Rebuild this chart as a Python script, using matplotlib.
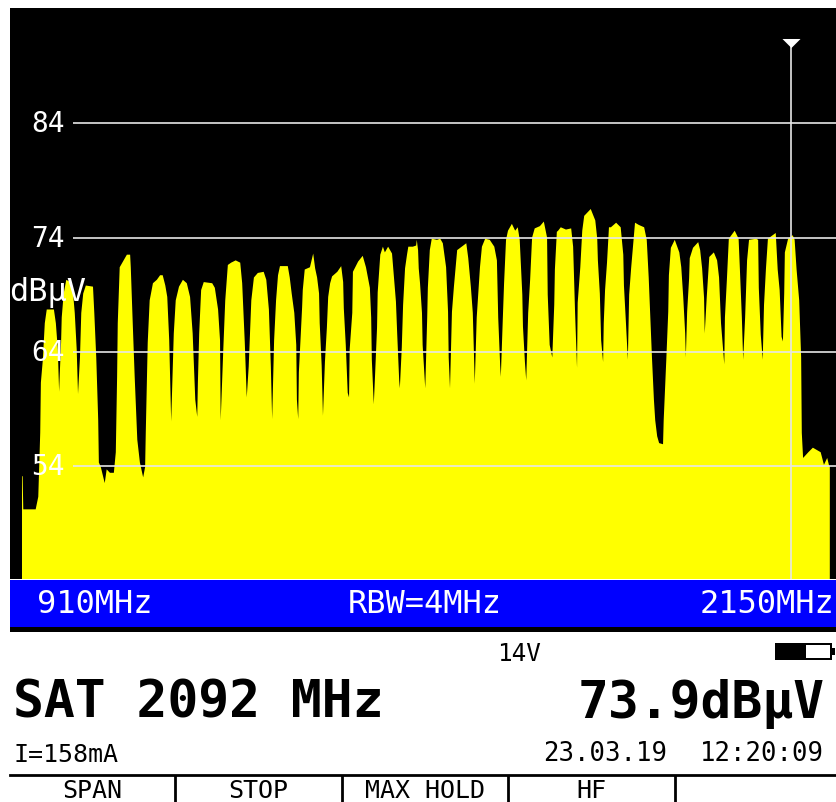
import matplotlib
matplotlib.use('Agg')
import matplotlib.pyplot as plt
from matplotlib.patches import Rectangle

# spectrum trace, one line per transponder hump
freq_mhz = [
    910, 911, 912, 931, 935,
    938, 939, 942, 945, 948, 953, 959, 962, 965, 967,
    968, 970, 971, 974, 978, 984, 988, 991, 994, 996,
    999, 1001, 1004, 1008, 1019, 1021, 1024, 1027, 1028, 1031, 1037, 1040, 1045, 1051, 1054,
    1056, 1057, 1060, 1065, 1071, 1076, 1077, 1080, 1083, 1087, 1091, 1096,
    1099, 1100, 1103, 1106, 1111, 1117, 1122, 1126, 1130, 1133, 1136, 1139,
    1140, 1143, 1146, 1151, 1157, 1163, 1168, 1172, 1176, 1179,
    1180, 1182, 1185, 1189, 1202, 1206, 1211, 1214, 1215,
    1219, 1222, 1226, 1231, 1238, 1245, 1248, 1252, 1255,
    1258, 1262, 1266, 1272, 1281, 1285, 1289, 1292, 1294,
    1297, 1300, 1303, 1306, 1318, 1321, 1324, 1328, 1331, 1332, 1334,
    1335, 1338, 1340, 1341, 1344, 1352, 1357, 1360, 1363, 1366, 1367, 1370, 1372,
    1375, 1378, 1380, 1383, 1386, 1394, 1400, 1403, 1404, 1407, 1410, 1412,
    1413, 1417, 1418, 1426, 1433, 1438, 1441, 1444, 1446, 1447, 1450,
    1452, 1455, 1456, 1460, 1464, 1467, 1472, 1478, 1481, 1484, 1486, 1489, 1490,
    1493, 1495, 1498, 1501, 1503, 1510, 1515, 1516, 1518, 1519, 1521, 1524, 1525, 1529,
    1532, 1533, 1536, 1539, 1547, 1552, 1556, 1561, 1564, 1565, 1567,
    1570, 1573, 1578, 1585, 1592, 1595, 1599, 1602, 1604, 1605,
    1608, 1613, 1616, 1621, 1628, 1635, 1639, 1641, 1644, 1645,
    1648, 1650, 1653, 1656, 1662, 1667, 1671, 1674, 1678, 1679, 1682, 1684,
    1687, 1690, 1693, 1697, 1705, 1711, 1716, 1717, 1720, 1724,
    1727, 1728, 1731, 1733, 1737, 1745, 1753, 1756, 1757, 1759, 1762,
    1763, 1767, 1770, 1773, 1783, 1790, 1793, 1794, 1797, 1799, 1802,
    1803, 1805, 1808, 1811, 1814, 1822, 1829, 1833, 1834, 1837, 1840,
    1842, 1845, 1848, 1851, 1857, 1865, 1869, 1872, 1877, 1880, 1882, 1885, 1888, 1894,
    1895, 1899, 1902, 1903, 1906, 1912, 1919, 1922, 1925, 1928, 1929,
    1931, 1934, 1935, 1940, 1948, 1951, 1954, 1957, 1958,
    1961, 1963, 1965, 1972, 1977, 1980, 1983, 1988,
    1989, 1992, 1995, 2004, 2010, 2012, 2015, 2017,
    2020, 2023, 2026, 2037, 2040, 2041, 2044, 2047,
    2049, 2052, 2055, 2067, 2070, 2073, 2076, 2078,
    2080, 2081, 2086, 2093, 2096, 2099, 2103, 2106, 2107, 2109, 2117, 2124, 2136, 2141, 2146, 2149, 2150,
]
level_dbuv = [
    53.1, 53.1, 50.2, 50.2, 51.3,
    56.9, 61.3, 63.3, 66.5, 67.7, 67.7, 67.7, 66.5, 64.2, 60.5,
    62.1, 64.8, 67.0, 69.1, 70.3, 70.1, 69.4, 67.4, 64.2, 60.3,
    63.5, 67.4, 69.1, 69.8, 69.7, 67.4, 63.5, 58.0, 54.3, 53.9, 52.5, 53.7, 53.4, 53.4, 55.2,
    61.8, 66.5, 71.4, 71.9, 72.5, 72.5, 71.4, 66.5, 61.8, 56.3, 54.3, 53.0,
    53.9, 56.9, 64.8, 68.5, 70.0, 70.3, 70.7, 70.7, 69.8, 68.8, 65.0, 57.9,
    59.8, 65.6, 68.5, 69.7, 70.3, 70.0, 68.8, 65.6, 59.8, 58.3,
    61.3, 65.6, 69.4, 70.1, 70.0, 69.6, 67.7, 65.0, 58.0,
    64.2, 68.5, 71.6, 71.8, 72.0, 71.8, 70.0, 64.8, 60.0,
    62.7, 68.5, 70.5, 70.9, 71.0, 70.3, 67.7, 62.7, 58.1,
    65.0, 68.5, 70.7, 71.5, 71.5, 70.5, 69.1, 67.4, 64.6, 59.8, 58.1,
    62.2, 65.6, 67.9, 69.4, 71.2, 71.4, 72.6, 71.3, 70.5, 69.1, 66.5, 62.8, 58.4,
    63.1, 66.1, 68.8, 70.0, 70.6, 71.0, 71.5, 70.1, 67.8, 64.6, 60.4, 60.0,
    64.2, 67.4, 71.0, 71.9, 72.4, 71.4, 70.5, 69.6, 67.0, 63.3, 59.4,
    62.0, 66.1, 69.2, 72.5, 73.2, 72.7, 73.2, 72.6, 70.5, 68.4, 65.5, 61.5, 60.8,
    64.4, 68.1, 71.3, 72.5, 73.2, 73.2, 73.3, 73.8, 72.9, 71.3, 70.0, 67.4, 64.6, 60.8,
    67.0, 69.6, 72.9, 73.9, 73.8, 73.9, 73.5, 71.4, 67.5, 63.5, 60.8,
    67.5, 69.7, 72.9, 73.2, 73.5, 72.2, 69.7, 67.4, 63.3, 61.2,
    67.0, 71.4, 73.2, 73.9, 73.8, 73.2, 72.0, 67.0, 62.8, 61.8,
    66.8, 70.0, 73.8, 74.6, 75.2, 74.6, 74.9, 73.8, 69.0, 66.2, 63.1, 61.5,
    67.4, 70.3, 74.0, 74.8, 75.0, 75.4, 74.0, 69.0, 64.6, 63.5,
    68.1, 71.2, 74.5, 74.6, 74.9, 74.7, 74.8, 73.2, 71.3, 67.4, 62.6,
    68.3, 71.4, 74.6, 75.9, 76.5, 75.5, 73.9, 72.0, 69.1, 65.0, 63.1,
    66.5, 69.4, 71.8, 74.9, 74.9, 75.3, 74.9, 72.5, 69.8, 66.6, 63.3,
    69.0, 71.3, 73.3, 75.3, 75.1, 74.9, 73.8, 70.5, 63.5, 59.8, 58.0, 56.6, 56.0, 55.9,
    58.0, 63.3, 67.5, 70.7, 73.1, 73.8, 72.7, 71.4, 68.8, 65.6, 63.5,
    67.5, 70.4, 72.2, 73.1, 73.6, 72.9, 71.3, 68.7, 65.6,
    68.7, 70.5, 72.3, 72.7, 72.0, 70.5, 66.5, 62.9,
    67.0, 70.3, 73.9, 74.6, 73.9, 71.2, 67.0, 63.3,
    67.0, 72.0, 73.8, 73.9, 73.8, 69.6, 65.5, 63.3,
    68.1, 71.3, 73.9, 74.4, 71.2, 69.4, 65.3, 64.9,
    69.1, 72.7, 73.9, 74.2, 73.8, 71.2, 68.5, 63.5, 56.9, 54.7, 55.2, 55.6, 55.2, 54.1, 54.7, 54.0, 54.0,
]
tick_levels = [84, 74, 64, 54]
marker_mhz = 2090
marker_top = 91
start_label = '910MHz'
rbw_label = 'RBW=4MHz'
stop_label = '2150MHz'
softkeys = ['SPAN', 'STOP', 'MAX HOLD', 'HF']

MONO = 'DejaVu Sans Mono'

fig = plt.figure(figsize=(8.36, 8.03), dpi=100, facecolor='white')

# screen furniture, in pixels of the instrument display
panel = fig.add_axes([0, 0, 1, 1], zorder=1)
panel.set_xlim(0, 836)
panel.set_ylim(803, 0)
panel.axis('off')
panel.add_patch(Rectangle((10, 581), 826, 47, color='#0000ff', lw=0))
panel.add_patch(Rectangle((10, 628), 826, 5, color='black', lw=0))
panel.text(37, 605, start_label, color='white', family=MONO, fontsize=23, va='center')
panel.text(348, 605, rbw_label, color='white', family=MONO, fontsize=23, va='center')
panel.text(834, 605, stop_label, color='white', family=MONO, fontsize=23, va='center', ha='right')

panel.text(497, 654, '14V', color='black', family=MONO, fontsize=17.5, va='center')
panel.add_patch(Rectangle((775, 644), 57, 17, color='black', lw=0))
panel.add_patch(Rectangle((806, 646), 24, 13, color='white', lw=0))
panel.add_patch(Rectangle((832, 649), 3, 7, color='black', lw=0))

panel.text(13, 704, 'SAT 2092 MHz', color='black', family=MONO, fontsize=37, va='center', weight='bold')
panel.text(825, 704, '73.9dB\u00b5V', color='black', family=MONO, fontsize=37, va='center', ha='right', weight='bold')
panel.text(14, 755, 'I=158mA', color='black', family=MONO, fontsize=18, va='center')
panel.text(543, 754, '23.03.19', color='black', family=MONO, fontsize=18.5, va='center')
panel.text(824, 754, '12:20:09', color='black', family=MONO, fontsize=18.5, va='center', ha='right')

panel.plot([10, 836], [776, 776], color='black', lw=2)
for px in [175, 342, 508, 675]:
    panel.plot([px, px], [777, 803], color='black', lw=2)
for px, key in zip([92, 258, 425, 591], softkeys):
    panel.text(px, 791, key, color='black', family=MONO, fontsize=18, va='center', ha='center')

# spectrum window
ax = fig.add_axes([10 / 836, 1 - 580 / 803, 826 / 836, 571 / 803], zorder=2)
ax.set_facecolor('black')
ax.set_xlim(891.6, 2159.5)
ax.set_ylim(44.1, 94.1)
ax.set_xticks([])
ax.set_yticks([])
for s in ax.spines.values():
    s.set_visible(False)

ax.fill_between(freq_mhz, 0, level_dbuv, color='#ffff00', lw=0)
ax.hlines(tick_levels, 988, 2159.5, color='#e6e6e6', lw=1.2)
for lev in tick_levels:
    ax.text(950, lev, str(lev), color='white', family=MONO, fontsize=20, va='center', ha='center')
ax.text(890, 69.3, 'dB\u00b5V', color='white', family=MONO, fontsize=23, va='center', ha='left')

ax.vlines(marker_mhz, 44.1, marker_top, color='#e6e6e6', lw=1.2)
ax.plot([marker_mhz], [marker_top], marker=[(-1, 0.5), (1, 0.5), (0, -0.5)], color='white', ms=13, ls='none', mew=0)

fig.savefig('out.png', dpi=100)
